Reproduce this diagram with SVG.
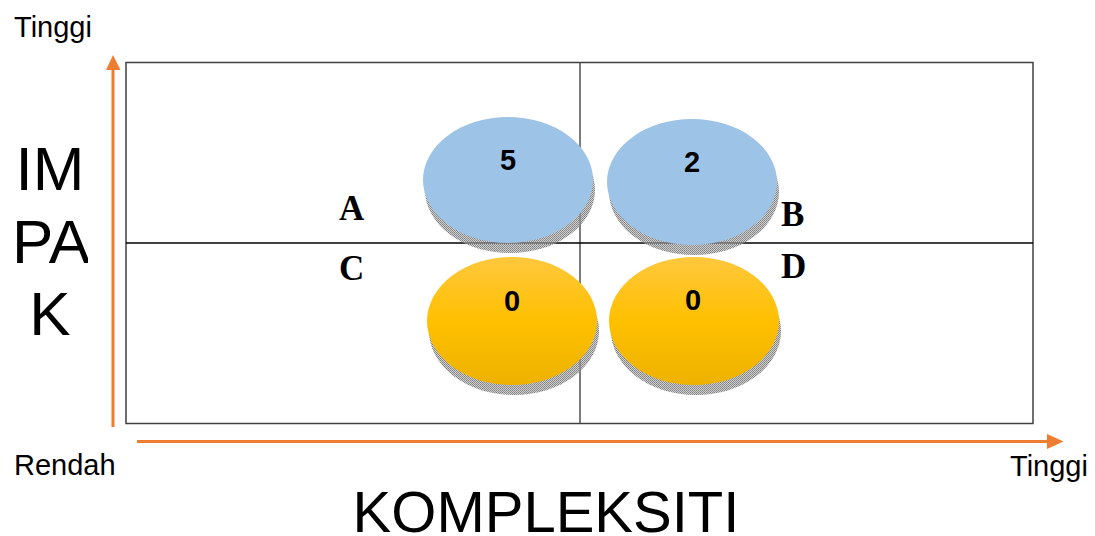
<svg xmlns="http://www.w3.org/2000/svg" width="1095" height="536" viewBox="0 0 1095 536">
  <style>
    .lbl { font-family: "Liberation Sans", Arial, sans-serif; fill: #000; }
    .quad { font-family: "Liberation Serif", "Times New Roman", serif; font-weight: bold; font-size: 35px; fill: #000; }
    .num { font-family: "Liberation Sans", Arial, sans-serif; font-weight: bold; font-size: 29px; fill: #000; text-anchor: middle; }
    .shadow { fill: url(#dither); }
    .blue { fill: #9DC3E6; }
    .yellow { fill: url(#yel); }
    .axis { stroke: #ED7D31; stroke-width: 3; fill: none; }
  </style>
  <defs>
    <pattern id="dither" width="2" height="2" patternUnits="userSpaceOnUse">
      <rect width="2" height="2" fill="#a0a0a0" fill-opacity="0.5"/>
      <rect width="1" height="1" fill="#808080"/>
      <rect x="1" y="1" width="1" height="1" fill="#909090"/>
    </pattern>
    <linearGradient id="yel" x1="0" y1="0" x2="0" y2="1">
      <stop offset="0" stop-color="#FFC83D"/>
      <stop offset="0.5" stop-color="#FFC000"/>
      <stop offset="1" stop-color="#EDB200"/>
    </linearGradient>
    <clipPath id="impakClip">
      <rect x="0" y="120" width="88" height="240"/>
    </clipPath>
  </defs>

  <g id="matrix">
    <rect x="126" y="62.5" width="907" height="361" fill="#fff" stroke="#404040" stroke-width="1.5"/>
    <line x1="580" y1="62.5" x2="580" y2="423.5" stroke="#505050" stroke-width="1.5"/>
    <line x1="126" y1="243" x2="1033" y2="243" stroke="#000" stroke-width="1.5"/>
  </g>

  <g id="connectors">
    <line class="axis" x1="113" y1="427" x2="113" y2="69"/>
    <polygon points="113,55 106,70 120.5,70" fill="#ED7D31"/>
    <line class="axis" x1="137" y1="441.5" x2="1049" y2="441.5"/>
    <polygon points="1063.5,441.5 1047,434 1047,449" fill="#ED7D31"/>
  </g>

  <g id="node-A5">
    <ellipse class="shadow" cx="510" cy="190" rx="85" ry="63"/>
    <ellipse class="blue" cx="508" cy="180" rx="85" ry="63"/>
    <text class="num" x="508" y="170">5</text>
  </g>
  <g id="node-B2">
    <ellipse class="shadow" cx="694" cy="192" rx="85" ry="63"/>
    <ellipse class="blue" cx="692" cy="182" rx="85" ry="63"/>
    <text class="num" x="692" y="172">2</text>
  </g>
  <g id="node-C0">
    <ellipse class="shadow" cx="514" cy="331" rx="85" ry="64"/>
    <ellipse class="yellow" cx="512" cy="321" rx="85" ry="64"/>
    <text class="num" x="512" y="311">0</text>
  </g>
  <g id="node-D0">
    <ellipse class="shadow" cx="696" cy="331" rx="85" ry="64"/>
    <ellipse class="yellow" cx="694" cy="321" rx="85" ry="64"/>
    <text class="num" x="693" y="310">0</text>
  </g>

  <g id="quadrant-labels">
    <text class="quad" x="339" y="220">A</text>
    <text class="quad" x="781" y="226">B</text>
    <text class="quad" x="339" y="280">C</text>
    <text class="quad" x="781" y="278">D</text>
  </g>

  <g id="axis-labels">
    <text class="lbl" x="14" y="37" font-size="29">Tinggi</text>
    <text class="lbl" x="14" y="475" font-size="29">Rendah</text>
    <text class="lbl" x="1010" y="476" font-size="29">Tinggi</text>
    <text class="lbl" x="546" y="532" font-size="58" text-anchor="middle">KOMPLEKSITI</text>
    <g clip-path="url(#impakClip)">
      <text class="lbl" x="50" y="190" font-size="62" text-anchor="middle">IM</text>
      <text class="lbl" x="51" y="263" font-size="62" text-anchor="middle">PA</text>
      <text class="lbl" x="50" y="335" font-size="62" text-anchor="middle">K</text>
    </g>
  </g>
</svg>
